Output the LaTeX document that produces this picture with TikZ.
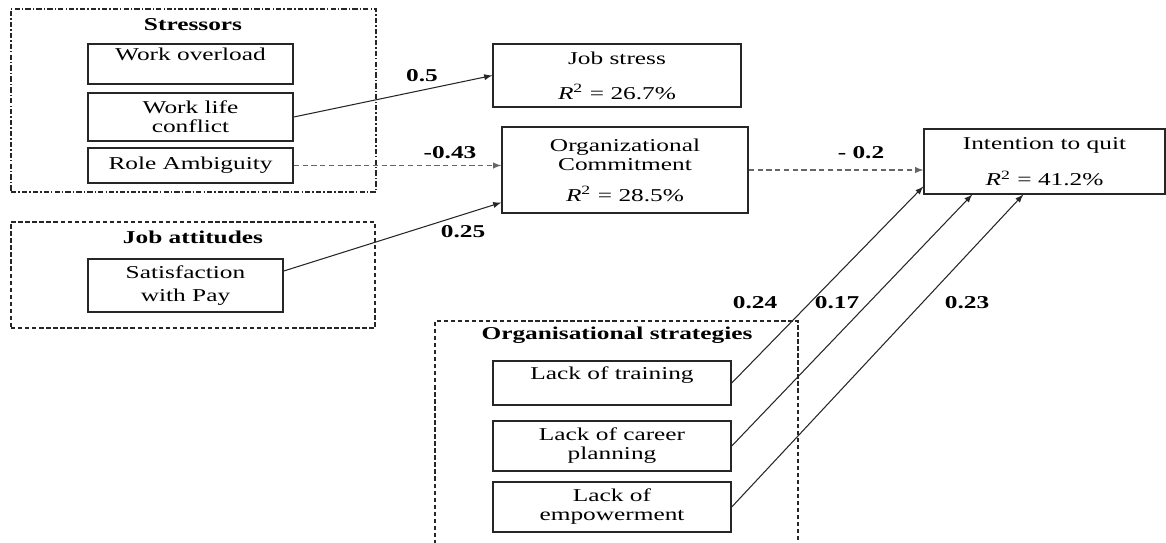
\documentclass[tikz,border=0pt]{standalone}
\usepackage{fontspec}
\setmainfont{Liberation Serif}
\usetikzlibrary{
  calc,
  positioning,
  arrows
}
\tikzset{>=latex}
\newcommand{\rsqval}[1]{\textit{R}\textsuperscript{2} = #1\%}

\begin{document}
\begin{tikzpicture}[x=0.02cm, y=-0.02cm,
    box/.style = {rectangle, draw=black!85, line width=0.6pt, align=center, xscale=1.4, inner sep=1pt, font=\fontsize{10.3}{10.8}\selectfont},
    bw/.style = {minimum width=#1*0.02cm/1.4},
    bh/.style = {minimum height=#1*0.02cm},
    gw/.style = {minimum width=#1*0.02cm},
    group/.style = {rectangle, draw=black!85, line width=0.6pt, dash pattern=on 2.5pt off 1.5pt},
    dashdot/.style = {dash pattern=on 3pt off 1.2pt on 0.8pt off 1.2pt},
    title/.style = {xscale=1.4, font=\fontsize{10.3}{10.8}\selectfont\bfseries},
    coef/.style = {xscale=1.4, font=\fontsize{10.3}{10.8}\selectfont\bfseries},
    path/.style = {-latex, line width=0.6pt, black!85},
    neg/.style = {path, black!60, dash pattern=on 3pt off 2pt}]
  \path[use as bounding box, clip] (0,0) rectangle (1166,542);

  % stressors
  \node[group, dashdot, gw=365, bh=183] (stressors) at (193.5,100.5) {};
  \node[title] (stressorstitle) at (193,25) {Stressors};
  \node[box, bw=205, bh=40] (overload) at (190.5,64) {Work overload\\\mbox{}};
  \node[box, bw=205, bh=48] (conflict) at (190.5,117) {Work life\\conflict};
  \node[box, bw=205, bh=35] (ambiguity) at (190.5,165.5) {Role Ambiguity};

  % job attitudes
  \node[group, gw=364, bh=106] (attitudes) at (193,275) {};
  \node[title] (attitudestitle) at (193,237) {Job attitudes};
  \node[box, bw=195, bh=53] (pay) at (185.5,285.5) {Satisfaction\\[2pt]with Pay};

  % organisational strategies
  \node[group, gw=363, bh=250] (strategies) at (616.5,446) {};
  \node[title] (strategiestitle) at (617,335) {Organisational strategies};
  \node[box, bw=238, bh=44] (training) at (612,383) {Lack of training\\\mbox{}};
  \node[box, bw=238, bh=50] (career) at (612,446) {Lack of career\\planning};
  \node[box, bw=238, bh=50] (empower) at (612,507) {Lack of\\empowerment};

  % outcomes
  \node[box, bw=248, bh=63] (stress) at (617,75.5) {Job stress\\[9pt]\rsqval{26.7}};
  \node[box, bw=246, bh=86] (commit) at (625,170) {Organizational\\Commitment\\[7pt]\rsqval{28.5}};
  \node[box, bw=241, bh=65] (quit) at (1044.5,161.5) {Intention to quit\\[10pt]\rsqval{41.2}};

  % connections
  \draw[path] (conflict.east) -- (stress.west);
  \draw[neg] (ambiguity.east) -- (ambiguity.east -| commit.west);
  \draw[path] ([yshift=0.29cm]pay.east) -- ([yshift=0.22cm]commit.south west);
  \draw[neg] (commit.east) -- (commit.east -| quit.west);
  \draw[path] (training.east) -- ([yshift=0.16cm]quit.south west);
  \draw[path] (career.east) -- ([xshift=0.98cm]quit.south west);
  \draw[path] (empower.east) -- ([xshift=2cm]quit.south west);

  % coefficients
  \node[coef] (c1) at (422,76) {0.5};
  \node[coef] (c2) at (450,153) {-0.43};
  \node[coef] (c3) at (463,232) {0.25};
  \node[coef] (c4) at (861,153) {- 0.2};
  \node[coef] (c5) at (755,303) {0.24};
  \node[coef] (c6) at (837,303) {0.17};
  \node[coef] (c7) at (967,303) {0.23};
\end{tikzpicture}
\end{document}
